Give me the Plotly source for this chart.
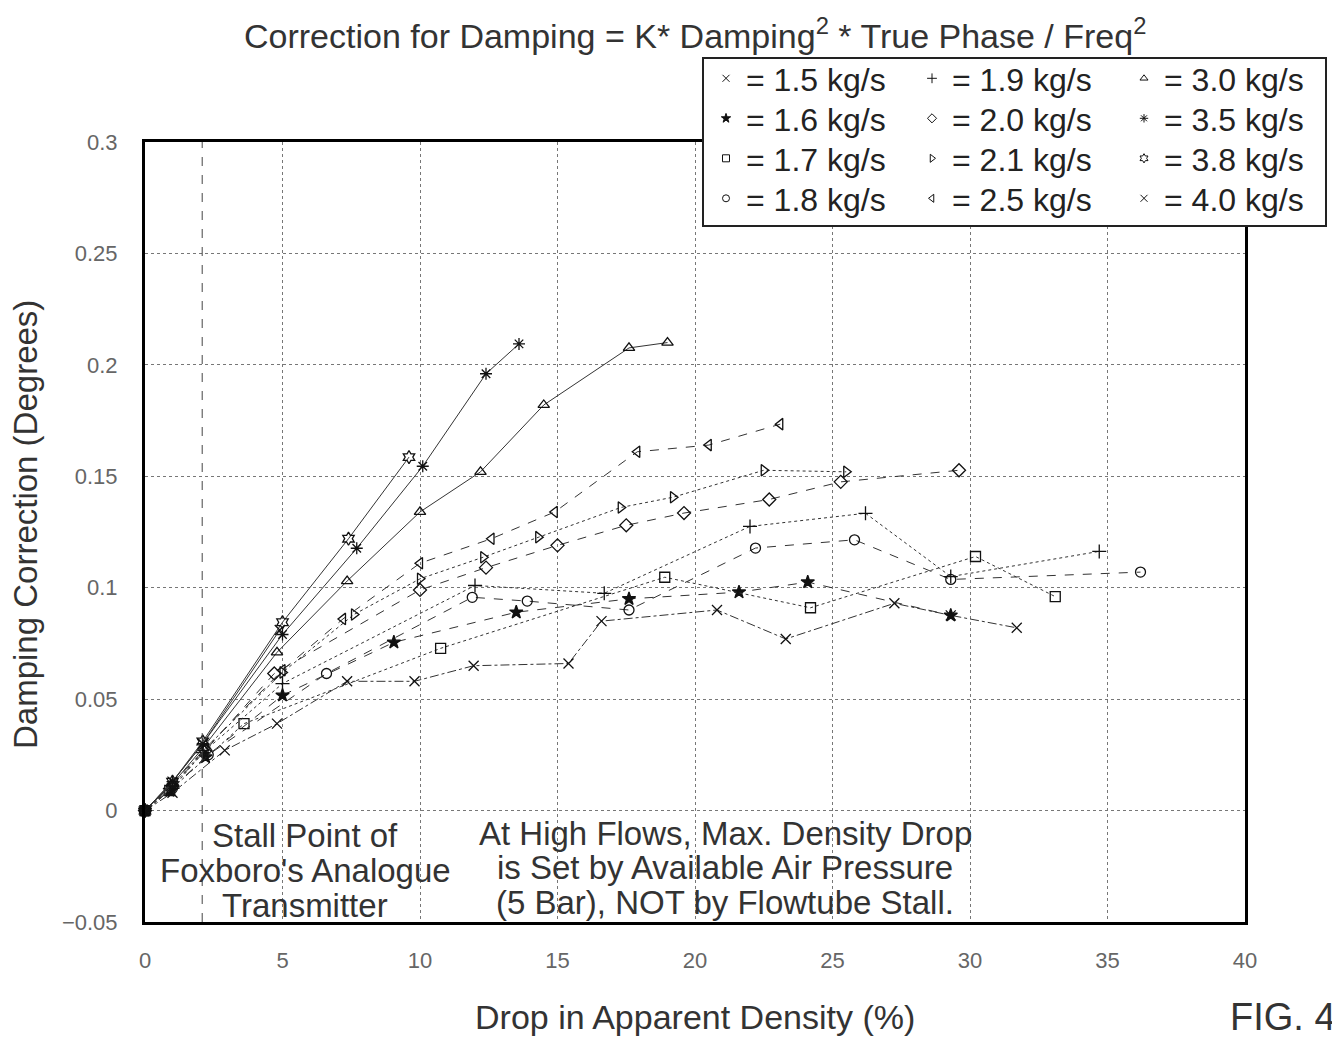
import plotly.graph_objects as go

# mass flow rates (kg/s) and legend labels
flows = ["1.5", "1.6", "1.7", "1.8", "1.9", "2.0", "2.1", "2.5", "3.0", "3.5", "3.8", "4.0"]

# drop in apparent density (%) / damping correction (degrees)
x_15 = [0, 1.0, 2.9, 4.8, 7.35, 9.8, 11.95, 15.4, 16.6, 20.8, 23.3, 27.25, 29.3, 31.7]
y_15 = [0, 0.008, 0.027, 0.039, 0.058, 0.058, 0.065, 0.066, 0.085, 0.090, 0.077, 0.093, 0.0876, 0.082]

x_16 = [0, 0.9, 2.2, 5.0, 9.05, 13.5, 17.6, 21.6, 24.1, 29.3]
y_16 = [0, 0.009, 0.024, 0.0517, 0.0755, 0.089, 0.095, 0.098, 0.1025, 0.0876]

x_17 = [0, 0.9, 3.6, 10.75, 18.9, 24.2, 30.2, 33.1]
y_17 = [0, 0.009, 0.039, 0.0728, 0.1047, 0.091, 0.114, 0.096]

x_18 = [0, 1.0, 2.3, 6.6, 11.9, 13.9, 17.6, 22.2, 25.8, 29.3, 36.2]
y_18 = [0, 0.010, 0.025, 0.0615, 0.0957, 0.094, 0.090, 0.1178, 0.1215, 0.1037, 0.107]

x_19 = [0, 1.0, 2.1, 5.0, 12.0, 16.7, 22.0, 26.2, 29.3, 34.7]
y_19 = [0, 0.010, 0.026, 0.057, 0.101, 0.0975, 0.1275, 0.1334, 0.105, 0.1163]

x_20 = [0, 1.0, 2.2, 4.7, 10.0, 12.4, 15.0, 17.5, 19.6, 22.7, 25.3, 29.6]
y_20 = [0, 0.011, 0.027, 0.0615, 0.099, 0.109, 0.119, 0.128, 0.1335, 0.1396, 0.1475, 0.1527]

x_21 = [0, 1.0, 2.2, 5.0, 7.6, 10.0, 12.3, 14.3, 17.3, 19.2, 22.5, 25.5]
y_21 = [0, 0.011, 0.028, 0.062, 0.088, 0.104, 0.1137, 0.1227, 0.136, 0.1406, 0.1527, 0.152]

x_25 = [0, 1.0, 2.2, 5.0, 7.2, 10.0, 12.6, 14.9, 17.9, 20.5, 23.1]
y_25 = [0, 0.012, 0.028, 0.063, 0.086, 0.111, 0.122, 0.134, 0.161, 0.164, 0.1734]

x_30 = [0, 1.0, 2.1, 4.8, 7.35, 10.0, 12.2, 14.5, 17.6, 19.0]
y_30 = [0, 0.012, 0.028, 0.071, 0.103, 0.134, 0.152, 0.182, 0.2076, 0.210]

x_35 = [0, 1.0, 2.1, 5.0, 7.7, 10.1, 12.4, 13.6]
y_35 = [0, 0.013, 0.030, 0.079, 0.1177, 0.1545, 0.196, 0.2094]

x_38 = [0, 1.0, 2.1, 5.0, 7.4, 9.6]
y_38 = [0, 0.013, 0.031, 0.0845, 0.122, 0.1586]

x_40 = [0, 1.0, 2.1, 4.9]
y_40 = [0, 0.013, 0.030, 0.081]

stall_x = 2.08

series = [
    (x_15, y_15, "x-thin-open", "dashdot"),
    (x_16, y_16, "star", "dash"),
    (x_17, y_17, "square-open", "dot"),
    (x_18, y_18, "circle-open", "dash"),
    (x_19, y_19, "cross-thin-open", "dot"),
    (x_20, y_20, "diamond-open", "dash"),
    (x_21, y_21, "triangle-right-open", "dot"),
    (x_25, y_25, "triangle-left-open", "dash"),
    (x_30, y_30, "triangle-up-open", "solid"),
    (x_35, y_35, "asterisk-open", "solid"),
    (x_38, y_38, "hexagram-open", "solid"),
    (x_40, y_40, "x-thin-open", "solid"),
]

W, H = 1332, 1045
L, R, T, B = 145, 1245, 142, 922
FONT = "Liberation Sans, Arial, sans-serif"


def px_x(p):
    return (p - L) / (R - L)


def px_y(p):
    return (B - p) / (B - T)


fig = go.Figure()

for (xs, ys, sym, dash) in series:
    fig.add_trace(go.Scatter(
        x=xs, y=ys, mode="lines+markers", showlegend=False, cliponaxis=False,
        line=dict(color="#333", width=1, dash=dash),
        marker=dict(symbol=sym, size=10, color="#111", line=dict(width=1.3, color="#111")),
    ))

# one legend per entry, laid out as a 3 x 4 grid
col_left = [706, 912, 1124]
row_top = [51, 91, 131, 171]
layout_legends = {}
for i, (flow, (xs, ys, sym, dash)) in enumerate(zip(flows, series)):
    key = "legend" if i == 0 else f"legend{i + 1}"
    fig.add_trace(go.Scatter(
        x=[None], y=[None], mode="markers", name=f"= {flow} kg/s", legend=key,
        marker=dict(symbol=sym, size=7, color="#111", line=dict(width=1, color="#111")),
    ))
    layout_legends[key] = dict(
        x=px_x(col_left[i // 4]), y=px_y(row_top[i % 4]),
        yanchor="top", xanchor="left", bgcolor="rgba(0,0,0,0)", borderwidth=0,
        font=dict(family=FONT, size=32, color="#222"),
    )

fig.update_layout(
    width=W, height=H,
    margin=dict(l=L, r=W - R, t=T, b=H - B),
    paper_bgcolor="white", plot_bgcolor="white",
    font=dict(family=FONT, color="#444"),
    **layout_legends,
)

fig.update_xaxes(
    range=[0, 40], dtick=5, tick0=0,
    showgrid=True, gridcolor="#777", gridwidth=1, griddash="dot", zeroline=False,
    showline=True, linecolor="black", linewidth=3, mirror=True,
    ticks="", ticklabelstandoff=17,
    tickfont=dict(family=FONT, size=22, color="#666"),
)
fig.update_yaxes(
    range=[-0.05, 0.3], dtick=0.05, tick0=0,
    showgrid=True, gridcolor="#777", gridwidth=1, griddash="dot", zeroline=False,
    showline=True, linecolor="black", linewidth=3, mirror=True,
    ticks="", ticklabelstandoff=20,
    tickfont=dict(family=FONT, size=22, color="#666"),
)

# stall point line
fig.add_shape(type="line", xref="x", yref="paper", x0=stall_x, x1=stall_x, y0=0, y1=1,
              line=dict(color="#444", width=1, dash="dash"))

# legend frame, covering the top of the plot border
fig.add_shape(type="rect", xref="paper", yref="paper",
              x0=px_x(703), x1=px_x(1326), y0=px_y(226), y1=px_y(58),
              line=dict(color="#222", width=2), fillcolor="white", layer="above")

texts = [
    ("Correction for Damping = K* Damping<sup>2</sup> * True Phase / Freq<sup>2</sup>", 695, 33, 34, 0),
    ("Drop in Apparent Density (%)", 695, 1017, 34, 0),
    ("Damping Correction (Degrees)", 25, 525, 33, -90),
    ("Stall Point of", 305, 835, 33, 0),
    ("Foxboro's Analogue", 305, 870, 33, 0),
    ("Transmitter", 305, 905, 33, 0),
    ("At High Flows, Max. Density Drop", 725, 833, 33, 0),
    ("is Set by Available Air Pressure", 725, 867, 33, 0),
    ("(5 Bar), NOT by Flowtube Stall.", 725, 902, 33, 0),
]
for txt, px, py, size, ang in texts:
    fig.add_annotation(text=txt, xref="paper", yref="paper", x=px_x(px), y=px_y(py),
                       xanchor="center", yanchor="middle", showarrow=False, textangle=ang,
                       font=dict(family=FONT, size=size, color="#333"))

fig.add_annotation(text="FIG. 4", xref="paper", yref="paper", x=px_x(1228), y=px_y(1017),
                   xanchor="left", yanchor="middle", showarrow=False,
                   font=dict(family=FONT, size=38, color="#333"))

fig.write_html("out.html", config={"displayModeBar": False},
               post_script="document.body.style.margin='0';document.body.style.overflow='hidden';")
